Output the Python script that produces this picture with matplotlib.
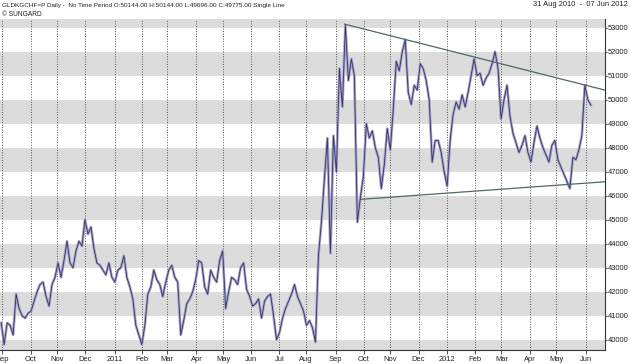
import numpy as np
import matplotlib
matplotlib.use("Agg")
import matplotlib.pyplot as plt

plt.rcParams["font.family"] = ["Liberation Sans", "DejaVu Sans"]

# ---- data (values in CHF per kg gold) ----
start_date = "2010-08-31"
end_date = "2012-06-07"
price_k = [
    40.7, 39.8, 40.7, 40.6, 40.2, 41.9, 41.3, 41.0, 40.9, 41.1,
    41.2, 41.6, 42.0, 42.3, 42.4, 41.8, 41.4, 42.3, 42.6, 43.2,
    42.6, 43.3, 44.1, 43.2, 43.0, 43.7, 44.1, 43.9, 45.0, 44.4,
    44.7, 43.8, 43.2, 43.1, 42.9, 42.7, 43.2, 42.6, 42.4, 42.9,
    43.0, 43.5, 42.6, 42.2, 41.7, 40.6, 40.2, 39.8, 40.6, 41.9,
    42.2, 42.9, 42.5, 42.3, 41.8, 42.4, 42.9, 43.1, 42.6, 42.4,
    40.2, 40.8, 41.5, 41.7, 42.0, 42.5, 43.3, 43.2, 42.2, 41.9,
    42.9, 42.6, 42.4, 43.3, 43.7, 41.3, 42.0, 42.6, 42.5, 42.3,
    43.0, 43.2, 42.1, 41.8, 41.4, 41.5, 41.7, 40.9, 41.6, 41.8,
    41.9, 41.0, 40.0, 40.3, 40.9, 41.3, 41.6, 41.9, 42.3, 41.8,
    41.5, 41.2, 40.6, 40.8, 40.5, 39.9, 43.5, 44.9, 46.7, 48.4,
    43.6, 48.5, 47.0, 51.3, 49.7, 53.1, 50.8, 51.7, 51.0, 44.9,
    45.9, 46.8, 49.0, 48.4, 48.7, 48.0, 47.6, 46.3, 47.3, 48.8,
    47.9, 49.6, 51.6, 51.2, 52.0, 52.5, 50.3, 49.8, 50.6, 50.4,
    51.5, 51.3, 50.8, 50.0, 47.4, 48.3, 48.3, 47.8, 47.0, 46.4,
    48.3, 49.4, 49.9, 49.6, 50.2, 49.7, 50.3, 51.0, 51.7, 51.0,
    51.1, 50.6, 50.9, 51.1, 51.5, 52.0, 51.3, 49.2, 50.0, 50.6,
    49.3, 48.6, 48.2, 47.8, 48.1, 48.5, 47.8, 47.4, 48.2, 48.9,
    48.4, 48.0, 47.7, 47.4, 48.1, 48.3, 47.5, 47.2, 46.9, 46.6,
    46.3, 47.6, 47.5, 47.9, 48.5, 50.6, 50.0, 49.775,
]
prices = [v * 1000 for v in price_k]

# trend lines (date, value)
upper_dates = ["2011-09-12", "2012-06-22"]
upper_vals = [53150, 50400]
lower_dates = ["2011-09-29", "2012-06-22"]
lower_vals = [45850, 46580]

month_starts = ["2010-09-01", "2010-10-01", "2010-11-01", "2010-12-01", "2011-01-03",
                "2011-02-01", "2011-03-01", "2011-04-01", "2011-05-02", "2011-06-01",
                "2011-07-01", "2011-08-01", "2011-09-01", "2011-10-03", "2011-11-01",
                "2011-12-01", "2012-01-02", "2012-02-01", "2012-03-01", "2012-04-02",
                "2012-05-01", "2012-06-01"]
month_labels = ["Sep", "Oct", "Nov", "Dec", "2011", "Feb", "Mar", "Apr", "May", "Jun",
                "Jul", "Aug", "Sep", "Oct", "Nov", "Dec", "2012", "Feb", "Mar", "Apr",
                "May", "Jun"]
ytick_vals = list(range(40000, 54000, 1000))

title_left = "GLDKGCHF=P Daily -  No Time Period O:50144.00 H:50144.00 L:49696.00 C:49775.00 Single Line"
title_right = "31 Aug 2010  -  07 Jun 2012"
credit = "\u00a9 SUNGARD"

# ---- positions on a trading-day axis ----
def bidx(d):
    return float(np.busday_count(start_date, d))

n_days = bidx(end_date)
xs = np.linspace(0, n_days, len(prices))

fig = plt.figure(figsize=(6.3, 3.64), dpi=100)
ax = fig.add_axes([0.0, 1 - 350 / 364, 605 / 630, (350 - 19) / 364])
ax.set_facecolor("white")
ymin, ymax = 39571, 53362
ax.set_ylim(ymin, ymax)
ax.set_xlim(-0.9, 473.1)

# grey bands
for lo in range(39000, 54000, 2000):
    ax.axhspan(lo, lo + 1000, color="#dcdcdc", lw=0, zorder=0)

# month dotted lines
tick_pos = [bidx(d) for d in month_starts]
for p in tick_pos:
    ax.axvline(p, color="#555555", lw=0.7, ls=(0, (1, 1.6)), zorder=1)

# price line
ax.plot(xs, prices, color="#a4a2c4", lw=1.9, zorder=2)
ax.plot(xs, prices, color="#34346a", lw=0.6, zorder=3)

# trend lines
ax.plot([bidx(d) for d in upper_dates], upper_vals, color="#4f6868", lw=0.9, zorder=4)
ax.plot([bidx(d) for d in lower_dates], lower_vals, color="#4f6868", lw=0.9, zorder=4)

# axes styling
for s in ["top", "left"]:
    ax.spines[s].set_visible(False)
ax.spines["right"].set_color("#333333")
ax.spines["right"].set_linewidth(0.8)
ax.spines["bottom"].set_color("#333333")
ax.spines["bottom"].set_linewidth(0.8)

ax.yaxis.tick_right()
ax.set_yticks(ytick_vals)
ax.set_yticklabels([str(v) for v in ytick_vals])
ax.tick_params(axis="y", direction="out", length=1.2, width=0.6, color="#333333",
               labelsize=5.4, labelcolor="#222222", pad=0.6)
ax.set_xticks(tick_pos)
ax.set_xticklabels(month_labels)
ax.tick_params(axis="x", direction="out", length=3, width=0.6, color="#333333",
               labelsize=5.4, labelcolor="#222222", pad=1.2)

fig.text(2 / 630, 1 - 5 / 364, title_left, fontsize=4.55, color="#222222", va="center", ha="left")
fig.text(2 / 630, 1 - 14 / 364, credit, fontsize=4.8, color="#222222", va="center", ha="left")
fig.text(628 / 630, 1 - 5 / 364, title_right, fontsize=5.4, color="#222222", va="center", ha="right")

fig.savefig("out.png", dpi=100)
